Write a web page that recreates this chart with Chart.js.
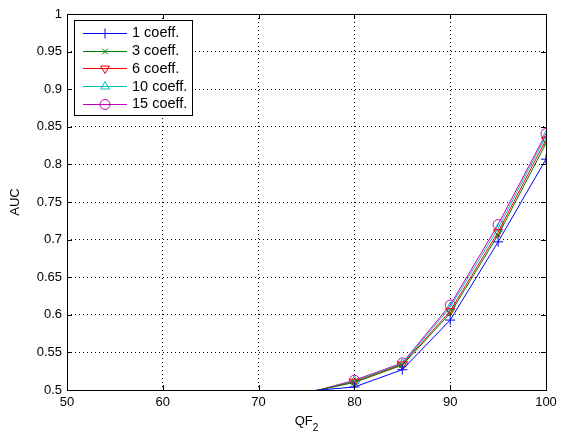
<!DOCTYPE html>
<html><head><meta charset="utf-8">
<script src="https://cdn.jsdelivr.net/npm/chart.js@4/dist/chart.umd.min.js"></script>
<style>html,body{margin:0;padding:0;background:#fff}#wrap{width:566px;height:432px}</style>
</head><body><div id="wrap"><canvas id="c" width="566" height="432"></canvas></div>
<script>
const xValues = [70, 80, 85, 90, 95, 100];
const coeff1  = [0.493, 0.504, 0.527, 0.593, 0.697, 0.807];
const coeff3  = [0.483, 0.510, 0.533, 0.602, 0.706, 0.828];
const coeff6  = [0.481, 0.511, 0.534, 0.605, 0.710, 0.833];
const coeff10 = [0.479, 0.512, 0.535, 0.610, 0.715, 0.838];
const coeff15 = [0.478, 0.513, 0.536, 0.613, 0.720, 0.841];
const seriesNames = ['1 coeff.', '3 coeff.', '6 coeff.', '10 coeff.', '15 coeff.'];
const xTicks = [50, 60, 70, 80, 90, 100];
const yTicks = [0.5, 0.55, 0.6, 0.65, 0.7, 0.75, 0.8, 0.85, 0.9, 0.95, 1];

const FONT = '"Liberation Sans", Arial, sans-serif';
const styles = [
  {color:'#0000ff', pointStyle:'cross', rot:0, r:5},
  {color:'#008000', pointStyle:'crossRot', rot:0, r:4},
  {color:'#ff0000', pointStyle:'triangle', rot:180, r:5},
  {color:'#00bfbf', pointStyle:'triangle', rot:0, r:5},
  {color:'#bf00bf', pointStyle:'circle', rot:0, r:5}
];
const allSeries = [coeff1, coeff3, coeff6, coeff10, coeff15];

const datasets = allSeries.map((vals, i) => ({
  label: seriesNames[i],
  data: xValues.map((x, j) => ({x: x, y: vals[j]})),
  borderColor: styles[i].color,
  backgroundColor: 'rgba(0,0,0,0)',
  pointBorderColor: styles[i].color,
  pointBackgroundColor: 'rgba(0,0,0,0)',
  pointStyle: styles[i].pointStyle,
  pointRotation: styles[i].rot,
  pointRadius: styles[i].r,
  pointBorderWidth: 1,
  borderWidth: 1,
  tension: 0,
  clip: 0
}));

const framePlugin = {
  id: 'frame',
  afterDatasetsDraw(chart) {
    const ctx = chart.ctx, a = chart.chartArea;
    const xs = chart.scales.x, ys = chart.scales.y;
    ctx.save();
    ctx.strokeStyle = '#000'; ctx.lineWidth = 1;
    ctx.strokeRect(Math.round(a.left)+0.5, Math.round(a.top)+0.5, Math.round(a.right-a.left), Math.round(a.bottom-a.top));
    const tl = 5;
    ctx.beginPath();
    xTicks.forEach(v => {
      const px = Math.round(xs.getPixelForValue(v)) + 0.5;
      ctx.moveTo(px, a.bottom); ctx.lineTo(px, a.bottom - tl);
      ctx.moveTo(px, a.top); ctx.lineTo(px, a.top + tl);
    });
    yTicks.forEach(v => {
      const py = Math.round(ys.getPixelForValue(v)) + 0.5;
      ctx.moveTo(a.left, py); ctx.lineTo(a.left + tl, py);
      ctx.moveTo(a.right, py); ctx.lineTo(a.right - tl, py);
    });
    ctx.stroke();
    ctx.restore();
  },
  afterDraw(chart) {
    const ctx = chart.ctx, a = chart.chartArea;
    ctx.save();
    ctx.fillStyle = '#000';
    ctx.font = '13px ' + FONT;
    ctx.textBaseline = 'middle';
    ctx.textAlign = 'center';
    ctx.save();
    ctx.translate(15, (a.top + a.bottom) / 2);
    ctx.rotate(-Math.PI / 2);
    ctx.fillText('AUC', 0, 0);
    ctx.restore();
    const cx = (a.left + a.right) / 2;
    const qw = ctx.measureText('QF').width;
    ctx.font = '10px ' + FONT;
    const sw = ctx.measureText('2').width;
    const startX = cx - (qw + sw) / 2;
    ctx.textAlign = 'left';
    ctx.font = '13px ' + FONT;
    ctx.fillText('QF', startX, 421);
    ctx.font = '10px ' + FONT;
    ctx.fillText('2', startX + qw, 428);
    // legend
    const lx = 74.5, ly = 20.5, lw = 118, lh = 95;
    ctx.fillStyle = '#fff';
    ctx.fillRect(lx, ly, lw, lh);
    ctx.strokeStyle = '#000'; ctx.lineWidth = 1;
    ctx.strokeRect(lx, ly, lw, lh);
    ctx.font = '14.5px ' + FONT;
    ctx.textBaseline = 'middle';
    ctx.textAlign = 'left';
    seriesNames.forEach((name, i) => {
      const y = 32.7 + i * 17.8;
      const yy = Math.round(y) + 0.5;
      ctx.strokeStyle = styles[i].color;
      ctx.lineWidth = 1;
      ctx.beginPath(); ctx.moveTo(83, yy); ctx.lineTo(127, yy); ctx.stroke();
      ctx.fillStyle = 'rgba(0,0,0,0)';
      ctx.strokeStyle = styles[i].color;
      Chart.helpers.drawPoint(ctx, {
        pointStyle: styles[i].pointStyle, rotation: styles[i].rot,
        radius: styles[i].r, borderWidth: 1
      }, 105, yy);
      ctx.fillStyle = '#000';
      ctx.fillText(name, 132, y + 0.5);
    });
    ctx.restore();
  }
};

new Chart(document.getElementById('c'), {
  type: 'line',
  data: { datasets },
  options: {
    responsive: false,
    animation: false,
    devicePixelRatio: 1,
    layout: { padding: { top: 14, right: 20, left: 0, bottom: 0 } },
    plugins: { legend: { display: false }, tooltip: { enabled: false } },
    elements: { point: { hoverRadius: 5 } },
    scales: {
      x: {
        type: 'linear', min: 50, max: 100,
        afterBuildTicks: s => { s.ticks = xTicks.map(v => ({value: v})); },
        afterFit: s => { s.height = 42; },
        ticks: { color: '#000', font: { family: FONT, size: 13 }, padding: 5, maxRotation: 0, callback: v => String(v) },
        grid: { color: '#000', lineWidth: 1, drawTicks: false },
        border: { display: false, dash: [1, 3] }
      },
      y: {
        type: 'linear', min: 0.5, max: 1,
        afterBuildTicks: s => { s.ticks = yTicks.map(v => ({value: v})); },
        afterFit: s => { s.width = 67; },
        ticks: { color: '#000', font: { family: FONT, size: 13 }, padding: 5, callback: v => String(+v.toFixed(2)) },
        grid: { color: '#000', lineWidth: 1, drawTicks: false },
        border: { display: false, dash: [1, 3] }
      }
    }
  },
  plugins: [framePlugin]
});
</script>
</body></html>
